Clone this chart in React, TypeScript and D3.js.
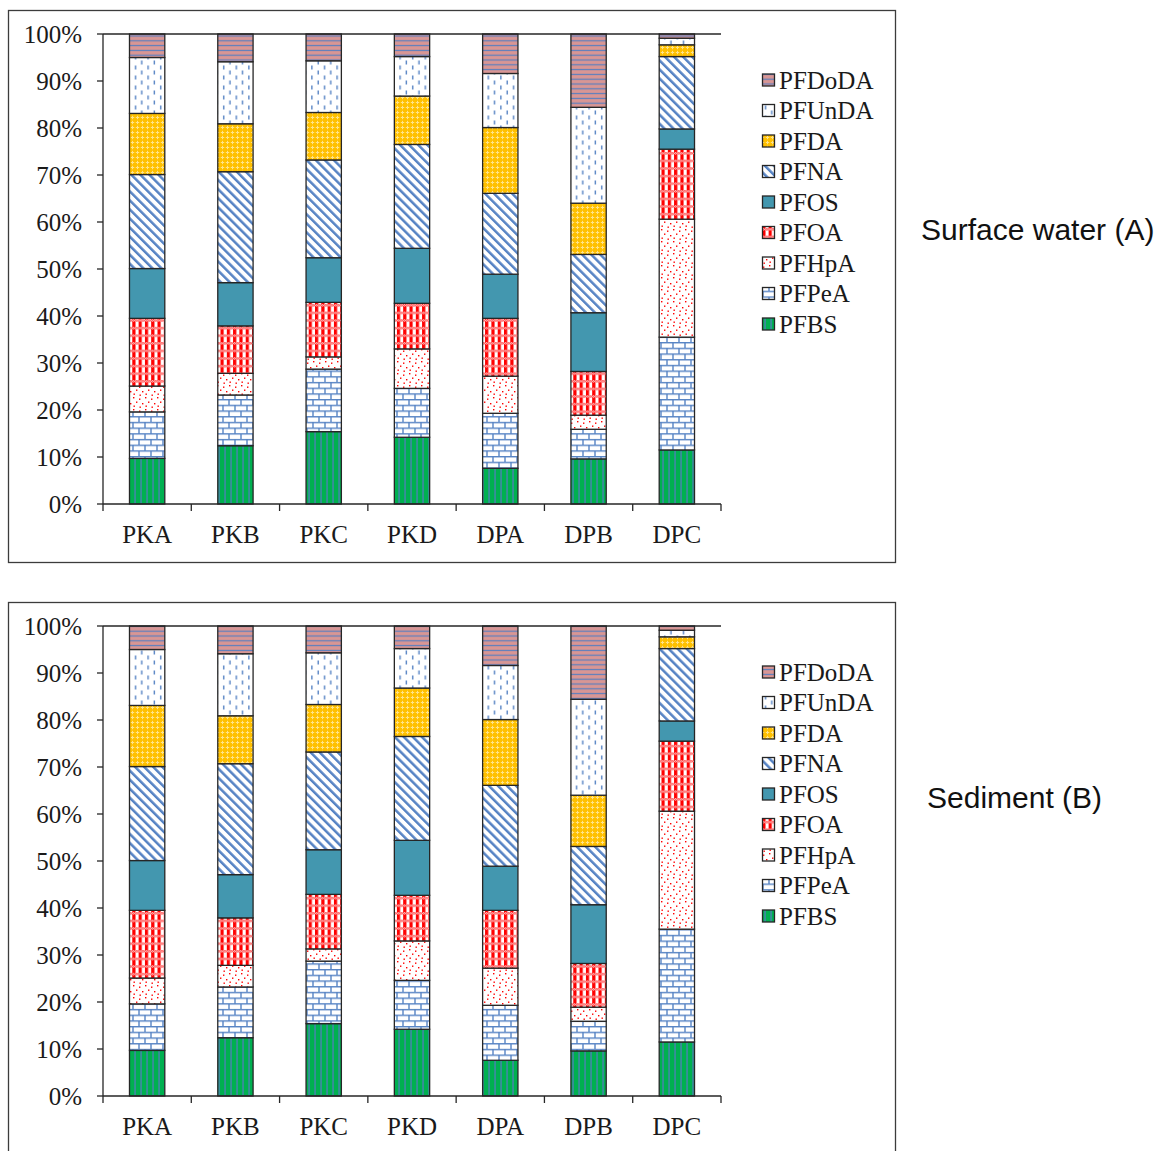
import React from "react";
import * as d3 from "d3";

// Sampling sites along the x axis
const sites = ["PKA", "PKB", "PKC", "PKD", "DPA", "DPB", "DPC"];

// Compound shares (%) per site, stacked bottom to top in this order
const compounds = ["PFBS", "PFPeA", "PFHpA", "PFOA", "PFOS", "PFNA", "PFDA", "PFUnDA", "PFDoDA"];

const PFBS = [9.7, 12.4, 15.4, 14.2, 7.6, 9.6, 11.5];
const PFPeA = [9.9, 10.8, 13.3, 10.4, 11.7, 6.3, 24.0];
const PFHpA = [5.5, 4.6, 2.6, 8.4, 7.9, 3.0, 25.1];
const PFOA = [14.4, 10.1, 11.6, 9.7, 12.3, 9.3, 14.9];
const PFOS = [10.6, 9.2, 9.5, 11.7, 9.4, 12.5, 4.3];
const PFNA = [20.0, 23.6, 20.8, 22.1, 17.2, 12.4, 15.4];
const PFDA = [13.0, 10.2, 10.1, 10.3, 14.0, 10.9, 2.5];
const PFUnDA = [11.9, 13.2, 11.0, 8.4, 11.5, 20.4, 1.4];
const PFDoDA = [5.0, 5.9, 5.7, 4.8, 8.4, 15.6, 0.9];

const seriesValues = [PFBS, PFPeA, PFHpA, PFOA, PFOS, PFNA, PFDA, PFUnDA, PFDoDA];

// Percentage ticks on the y axis
const yTicks = [0, 10, 20, 30, 40, 50, 60, 70, 80, 90, 100];

// Panel captions
const panelTitles = ["Surface water (A)", "Sediment (B)"];

const rows = sites.map((site, i) => {
  const r: Record<string, number | string> = { site };
  compounds.forEach((c, k) => (r[c] = seriesValues[k][i]));
  return r;
});

const stacked = d3.stack<any>().keys(compounds)(rows as any);

const SERIF = "'Liberation Serif', 'Times New Roman', serif";
const SANS = "'Liberation Sans', Arial, sans-serif";
const BLUE = "#5683C4";
const FS = 25;

function Patterns() {
  return (
    <defs>
      <pattern id="p-PFBS" patternUnits="userSpaceOnUse" width={6} height={6}>
        <rect width={6} height={6} fill="#00B050" />
        <rect x={2.4} width={1.3} height={6} fill="#4F7FB8" />
      </pattern>
      <pattern id="p-PFPeA" patternUnits="userSpaceOnUse" width={12} height={11.4}>
        <rect width={12} height={11.4} fill="#fff" />
        <g stroke={BLUE} strokeWidth={1.4} fill="none">
          <line x1={0} y1={0.7} x2={12} y2={0.7} />
          <line x1={0} y1={6.4} x2={12} y2={6.4} />
          <line x1={1} y1={0.7} x2={1} y2={6.4} />
          <line x1={7} y1={6.4} x2={7} y2={11.4} />
        </g>
      </pattern>
      <pattern id="p-PFHpA" patternUnits="userSpaceOnUse" width={12} height={12}>
        <rect width={12} height={12} fill="#fff" />
        <g fill="#FF0000">
          <rect x={1} y={1} width={1.4} height={1.4} />
          <rect x={7} y={2.5} width={1.4} height={1.4} />
          <rect x={4} y={5.5} width={1.4} height={1.4} />
          <rect x={10} y={7} width={1.4} height={1.4} />
          <rect x={1.5} y={9.5} width={1.4} height={1.4} />
          <rect x={7.5} y={10.5} width={1.4} height={1.4} />
        </g>
      </pattern>
      <pattern id="p-PFOA-fine" patternUnits="userSpaceOnUse" width={2} height={2}>
        <rect width={2} height={2} fill="#fff" />
        <rect width={1} height={1} fill="#FF0000" />
        <rect x={1} y={1} width={1} height={1} fill="#FF0000" />
      </pattern>
      <pattern id="p-PFOA" patternUnits="userSpaceOnUse" width={6.3} height={7.6}>
        <rect width={6.3} height={7.6} fill="#fff" />
        <rect x={0} width={3.2} height={7.6} fill="#FF0000" />
        <rect y={0} width={6.3} height={2.6} fill="url(#p-PFOA-fine)" />
      </pattern>
      <pattern id="p-PFOS" patternUnits="userSpaceOnUse" width={6} height={6}>
        <rect width={6} height={6} fill="#4397AF" />
      </pattern>
      <pattern
        id="p-PFNA"
        patternUnits="userSpaceOnUse"
        width={6.4}
        height={6.4}
        patternTransform="rotate(-45)"
      >
        <rect width={6.4} height={6.4} fill="#fff" />
        <rect x={0} width={2.5} height={6.4} fill={BLUE} />
      </pattern>
      <pattern id="p-PFDA" patternUnits="userSpaceOnUse" width={5} height={5}>
        <rect width={5} height={5} fill="#FFC000" />
        <rect x={2} y={0.8} width={1} height={3.4} fill="#FFE38A" />
        <rect x={0.8} y={2} width={3.4} height={1} fill="#FFE38A" />
      </pattern>
      <pattern id="p-PFUnDA" patternUnits="userSpaceOnUse" width={12.6} height={10}>
        <rect width={12.6} height={10} fill="#fff" />
        <rect x={2.5} y={0.5} width={1.4} height={4} fill={BLUE} />
        <rect x={8.8} y={5.5} width={1.4} height={4} fill={BLUE} />
      </pattern>
      <pattern id="p-PFDoDA" patternUnits="userSpaceOnUse" width={6} height={4.8}>
        <rect width={6} height={4.8} fill="#D99694" />
        <rect y={1.8} width={6} height={1.2} fill="#5A7FBF" />
      </pattern>
    </defs>
  );
}

function Panel({ top, title, titleX, titleY }: { top: number; title: string; titleX: number; titleY: number }) {
  const left = 103;
  const right = 721;
  const yTop = top + 24;
  const yBottom = top + 494;

  const x = d3.scaleBand<string>().domain(sites).range([left, right]).paddingInner(0.6).paddingOuter(0.3);
  const y = d3.scaleLinear().domain([0, 100]).range([yBottom, yTop]);
  const step = x.step();
  const boundaries = d3.range(sites.length + 1).map((i) => left + i * step);

  const legendItems = compounds.slice().reverse();

  return (
    <g>
      <rect x={8.5} y={top + 0.5} width={887} height={552} fill="#fff" stroke="#3c3c3c" strokeWidth={1.3} />

      {/* stacked bars */}
      {stacked.map((layer) => (
        <g key={layer.key}>
          {layer.map((d, i) => (
            <rect
              key={sites[i]}
              x={x(sites[i])!}
              y={y(d[1])}
              width={x.bandwidth()}
              height={y(d[0]) - y(d[1])}
              fill={`url(#p-${layer.key})`}
              stroke="#262626"
              strokeWidth={1.3}
            />
          ))}
        </g>
      ))}

      {/* axes */}
      <line x1={left} x2={right} y1={y(100)} y2={y(100)} stroke="#262626" strokeWidth={1.3} />
      <line x1={left} x2={left} y1={yTop} y2={yBottom} stroke="#262626" strokeWidth={1.3} />
      <line x1={left} x2={right} y1={yBottom} y2={yBottom} stroke="#262626" strokeWidth={1.3} />
      {yTicks.map((t) => (
        <g key={t}>
          <line x1={left - 6} x2={left} y1={y(t)} y2={y(t)} stroke="#262626" strokeWidth={1.3} />
          <text
            x={82}
            y={y(t)}
            dy="0.35em"
            textAnchor="end"
            fontFamily={SERIF}
            fontSize={FS}
            fill="#1a1a1a"
          >
            {`${t}%`}
          </text>
        </g>
      ))}
      {boundaries.map((bx, i) => (
        <line key={i} x1={bx} x2={bx} y1={yBottom} y2={yBottom + 7} stroke="#262626" strokeWidth={1.3} />
      ))}
      {sites.map((s) => (
        <text
          key={s}
          x={x(s)! + x.bandwidth() / 2}
          y={yBottom + 39}
          textAnchor="middle"
          fontFamily={SERIF}
          fontSize={FS}
          fill="#1a1a1a"
        >
          {s}
        </text>
      ))}

      {/* legend */}
      {legendItems.map((c, i) => {
        const cy = top + 70 + i * 30.5;
        return (
          <g key={c}>
            <rect x={762.5} y={cy - 6} width={12} height={12} fill={`url(#p-${c})`} stroke="#262626" strokeWidth={1.3} />
            <text x={779} y={cy} dy="0.35em" fontFamily={SERIF} fontSize={FS} fill="#1a1a1a">
              {c}
            </text>
          </g>
        );
      })}

      <text x={titleX} y={titleY} fontFamily={SANS} fontSize={30} fill="#111">
        {title}
      </text>
    </g>
  );
}

export default function App() {
  return (
    <svg
      width={1162}
      height={1151}
      style={{ position: "absolute", left: 0, top: 0, display: "block", background: "#fff" }}
    >
      <Patterns />
      <rect width={1162} height={1151} fill="#fff" />
      <Panel top={10} title={panelTitles[0]} titleX={921} titleY={240} />
      <Panel top={602} title={panelTitles[1]} titleX={927} titleY={808} />
    </svg>
  );
}
